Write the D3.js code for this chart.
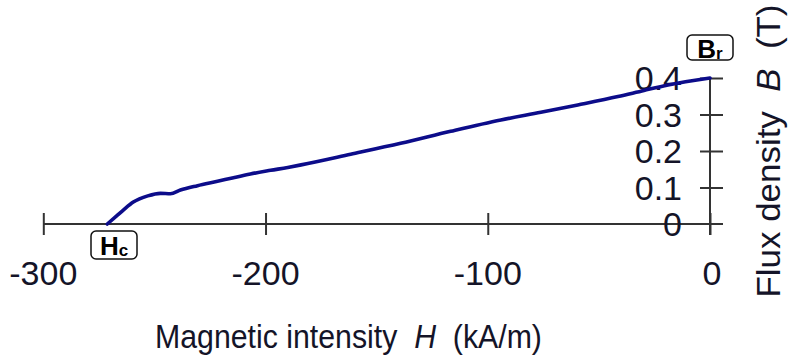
<!DOCTYPE html>
<html><head><meta charset="utf-8">
<script src="https://cdn.jsdelivr.net/npm/d3@7"></script>
<style>
html,body{margin:0;padding:0;background:#fff;}
svg{display:block;font-family:"Liberation Sans",Arial,sans-serif;}
text{white-space:pre;}
</style></head>
<body>
<svg id="chart" width="789" height="361"></svg>
<script>
// Demagnetization curve data (H in kA/m, B in T)
const H = [-271.2,-267,-264,-259.5,-253,-247.3,-242.8,-238.3,-230.6,-221.6,-214.4,-206.8,-197.7,-190,-184,-161.7,-139.2,-116.7,-94.1,-76.1,-59.5,-41.4,-29.7,-18.9,0];
const B = [0,0.022,0.038,0.060,0.077,0.084,0.083,0.093,0.105,0.117,0.127,0.137,0.147,0.155,0.162,0.191,0.221,0.254,0.285,0.306,0.326,0.349,0.366,0.381,0.40];
const xTicks = [-300,-200,-100,0];
const xTickLabels = ["-300","-200","-100","0"];
const yTicks = [0,0.1,0.2,0.3,0.4];
const yTickLabels = ["0","0.1","0.2","0.3","0.4"];

const svg = d3.select("#chart");
const x = d3.scaleLinear().domain([-300,0]).range([43.3,710]);
const y = d3.scaleLinear().domain([0,0.4]).range([224,78]);
const axisColor = "#333";
const textColor = "#141428";

// X axis line (extends past y axis)
svg.append("line").attr("x1",x(-300)).attr("x2",723).attr("y1",y(0)).attr("y2",y(0))
  .attr("stroke",axisColor).attr("stroke-width",2);
// Y axis line
svg.append("line").attr("x1",x(0)).attr("x2",x(0)).attr("y1",y(0.4)).attr("y2",235)
  .attr("stroke",axisColor).attr("stroke-width",2);

// X ticks (cross)
const xa = svg.append("g").attr("transform",`translate(0,${y(0)})`)
  .call(d3.axisBottom(x).tickValues(xTicks).tickSize(11).tickFormat(""));
xa.select(".domain").remove();
xa.selectAll(".tick line").attr("y1",-11).attr("y2",11).attr("stroke",axisColor).attr("stroke-width",2);

// Y ticks (cross)
const ya = svg.append("g").attr("transform",`translate(${x(0)},0)`)
  .call(d3.axisRight(y).tickValues(yTicks.filter(d=>d>0)).tickSize(13).tickFormat(""));
ya.select(".domain").remove();
ya.selectAll(".tick line").attr("x1",-10).attr("x2",13).attr("stroke",axisColor).attr("stroke-width",2);

// X tick labels
svg.append("g").selectAll("text").data(xTicks).join("text")
  .attr("x",d=>x(d)+ (d===0?2:0)).attr("y",285).attr("text-anchor","middle")
  .attr("font-size",34).attr("fill",textColor).text((d,i)=>xTickLabels[i]);

// Y tick labels
svg.append("g").selectAll("text").data(yTicks).join("text")
  .attr("x",682).attr("y",d=>y(d)+12).attr("text-anchor","end")
  .attr("font-size",34).attr("fill",textColor).text((d,i)=>yTickLabels[i]);

// Curve
const line = d3.line().x(d=>x(d[0])).y(d=>y(d[1])).curve(d3.curveMonotoneX);
svg.append("path").datum(H.map((h,i)=>[h,B[i]])).attr("d",line).attr("fill","none")
  .attr("stroke","#0c0c8a").attr("stroke-width",3.6).attr("stroke-linejoin","round").attr("stroke-linecap","round");

// X axis title (horizontally condensed to match)
const xt = svg.append("text").attr("font-size",34).attr("fill",textColor);
xt.append("tspan").text("Magnetic intensity  ");
xt.append("tspan").attr("font-style","italic").text("H");
xt.append("tspan").text("  (kA/m)");
const xLen = xt.node().getComputedTextLength();
xt.attr("transform",`translate(155,348) scale(${387/xLen},1)`);

// Y axis title
const yt = svg.append("text").attr("text-anchor","middle").attr("font-size",34).attr("fill",textColor);
yt.append("tspan").text("Flux density  ");
yt.append("tspan").attr("font-style","italic").text("B");
yt.append("tspan").text("  (T)");
const yLen = yt.node().getComputedTextLength();
yt.attr("transform",`translate(780,151) rotate(-90) scale(${293/yLen},1)`);

// Labels Hc and Br
function labelBox(x0,y0,w,h,main,sub,base){
  const g = svg.append("g");
  g.append("rect").attr("x",x0).attr("y",y0).attr("width",w).attr("height",h).attr("rx",5)
    .attr("fill","#fff").attr("stroke","#111").attr("stroke-width",1.5);
  const t = g.append("text").attr("x",x0+w/2).attr("y",base).attr("text-anchor","middle")
    .attr("font-weight","bold").attr("fill","#000");
  t.append("tspan").attr("font-size",26).text(main);
  t.append("tspan").attr("font-size",17).attr("dy",1).text(sub);
}
labelBox(91,231,46,28,"H","c",255);
labelBox(687,35,46,25,"B","r",58);
</script>
</body></html>
